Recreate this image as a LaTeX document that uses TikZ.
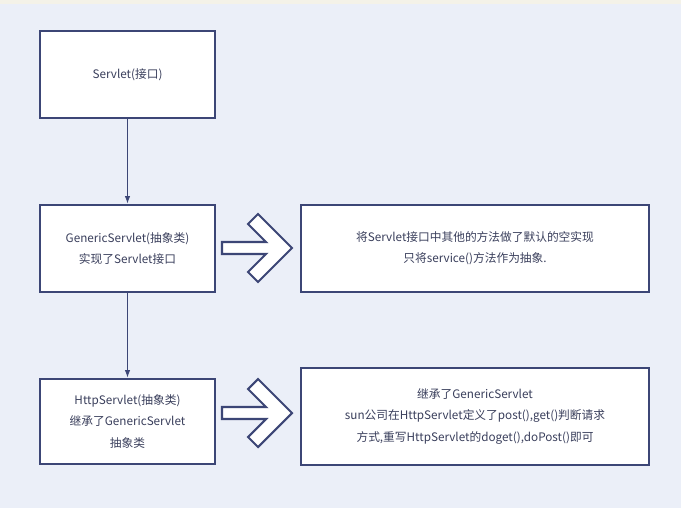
\documentclass[tikz,border=0pt]{standalone}
\usepackage{fontspec}
\setmainfont{Noto Sans CJK SC}
\usetikzlibrary{arrows.meta}
\definecolor{svNavy}{HTML}{3C4676}
\definecolor{svInk}{HTML}{3A3F5C}
\definecolor{svBack}{HTML}{EBEFF8}
\definecolor{svGrid}{HTML}{F4F2E8}
\tikzset{
  sv box/.style={draw=svNavy, fill=white, line width=2.5pt, minimum height=2.61cm, align=center, inner sep=0pt, font=\fontsize{10}{18}\selectfont, text=svInk},
  sv narrow/.style={sv box, minimum width=5.25cm},
  sv wide/.style={sv box, minimum width=10.44cm},
  sv link/.style={draw=svNavy, line width=0.7pt, -{Latex[length=2.2mm,width=1.6mm]}},
  sv chevron/.style={draw=svNavy, fill=white, line width=1.8pt, line join=miter},
}
\begin{document}
\begin{tikzpicture}[x=0.03cm,y=-0.03cm]
\fill[svBack](0,0)rectangle(681,508);
\fill[svGrid](0,0)rectangle(681,4);
% left column
\node[sv narrow](servlet)at(127.5,74.5){Servlet(接口)};
\node[sv narrow](generic)at(127.5,248.5){GenericServlet(抽象类)\\实现了Servlet接口};
\node[sv narrow,minimum height=2.55cm](http)at(127.5,421.5){HttpServlet(抽象类)\\继承了GenericServlet\\抽象类};
% right column
\node[sv wide](genericnote)at(475,248.5){将Servlet接口中其他的方法做了默认的空实现\\只将service()方法作为抽象.};
\node[sv wide,minimum height=2.91cm](httpnote)at(475,416.5){继承了GenericServlet\\sun公司在HttpServlet定义了post(),get()判断请求\\方式,重写HttpServlet的doget(),doPost()即可};
\draw[sv link](servlet)--(generic);
\draw[sv link](generic)--(http);
\foreach \cy in {248,413}{
  \draw[sv chevron](222,\cy-6)--(266,\cy-6)--(248,\cy-24)--(258,\cy-34)--(292,\cy)--(258,\cy+34)--(248,\cy+24)--(266,\cy+6)--(222,\cy+6)--cycle;
}
\end{tikzpicture}
\end{document}
